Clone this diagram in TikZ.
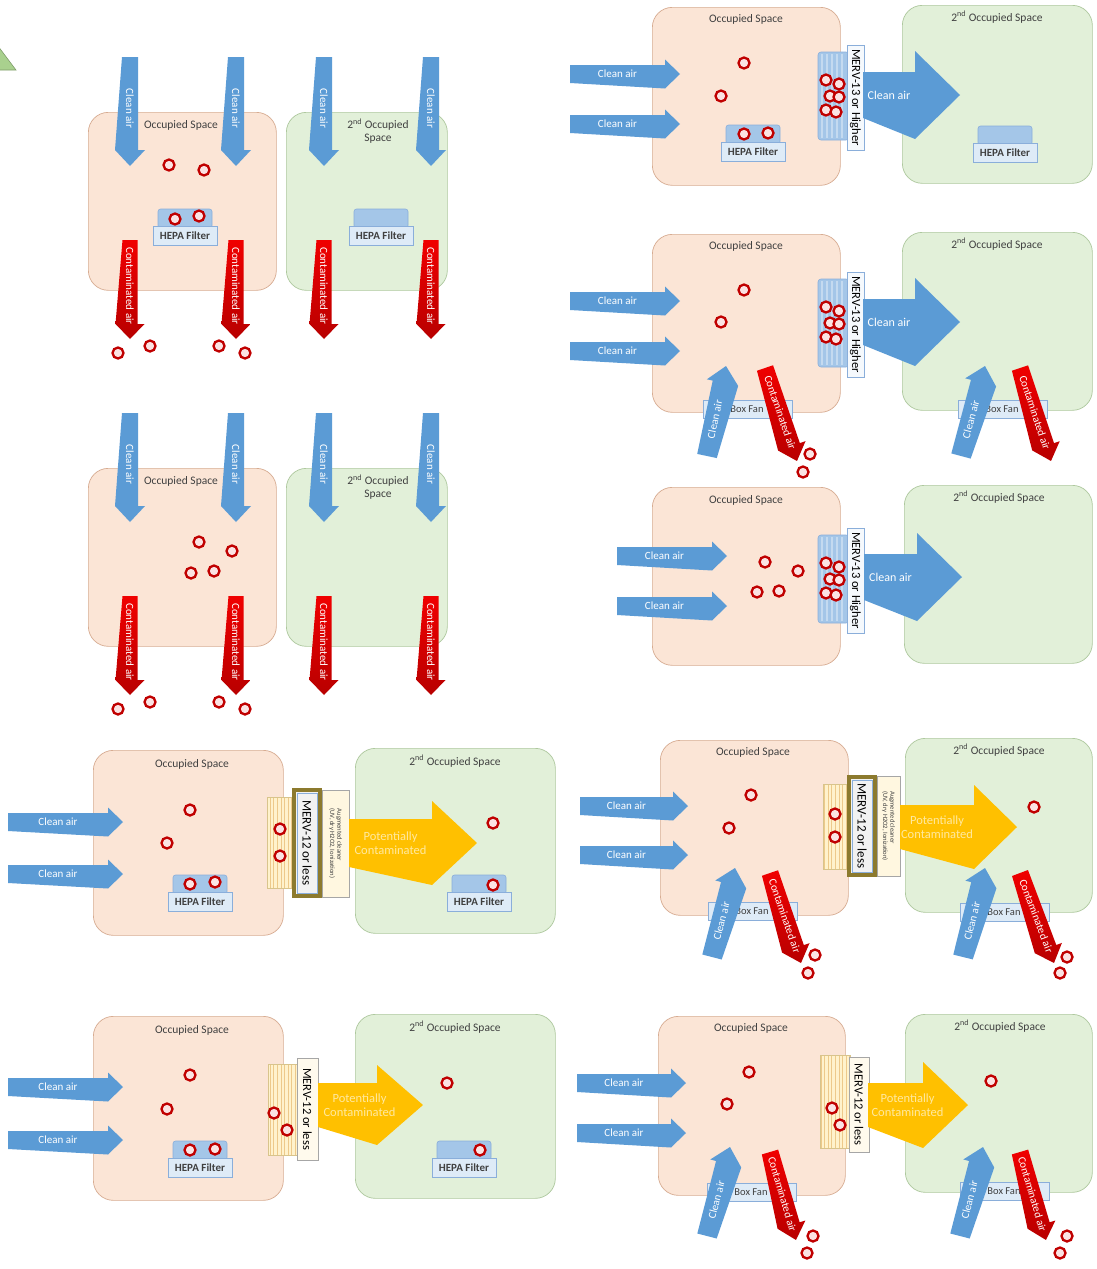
\documentclass[tikz,border=0pt]{standalone}
\usepackage{fontspec}
\setmainfont{Carlito}
\definecolor{peach}{HTML}{FBE5D6}
\definecolor{peachl}{HTML}{D7AC92}
\definecolor{grn}{HTML}{E2F0D9}
\definecolor{grnl}{HTML}{AEC89E}
\definecolor{cblue}{HTML}{5B9BD5}
\definecolor{cred}{HTML}{F00000}
\definecolor{credd}{HTML}{B80000}
\definecolor{cyel}{HTML}{FFC000}
\definecolor{cyelt}{HTML}{FFE9A0}
\definecolor{ctxt}{HTML}{404040}
\definecolor{hepat}{HTML}{A4C6E8}
\definecolor{hepas}{HTML}{C4DAF0}
\definecolor{hepab}{HTML}{DEEBF7}
\definecolor{hepal}{HTML}{8AAEDA}
\definecolor{pred}{HTML}{C00000}
\definecolor{pfill}{HTML}{FBE3E3}
\definecolor{gridf}{HTML}{FFF2CC}
\definecolor{gridl}{HTML}{EDC98A}
\definecolor{gridb}{HTML}{D8C48C}
\definecolor{olive}{HTML}{8C7A2E}
\definecolor{trig}{HTML}{A9D18E}
\tikzset{
  roomP/.style={fill=peach, draw=peachl, line width=0.7, rounded corners=20},
  roomG/.style={fill=grn, draw=grnl, line width=0.7, rounded corners=20},
  ttl/.style={text=ctxt, font=\fontsize{11.5}{12.5}\selectfont, align=center, inner sep=0},
  ptc/.style={circle, draw=pred, line width=2.3, fill=pfill, minimum size=11, inner sep=0},
  bfill/.style={fill=cblue},
  rfill/.style={top color=cred, bottom color=credd},
  yfill/.style={fill=cyel},
  wt/.style={text=white, font=\fontsize{12}{12}\selectfont, inner sep=0, transform shape},
  wts/.style={text=white, font=\fontsize{11}{11}\selectfont, inner sep=0, transform shape},
  yt/.style={text=cyelt, font=\fontsize{12.5}{13.5}\selectfont, inner sep=0, align=center, transform shape},
  boxlbl/.style={text=ctxt, font=\fontsize{10.5}{10.5}\selectfont, inner sep=0},
  mlbl/.style={text=black, font=\fontsize{12.5}{12.5}\selectfont, inner sep=0, rotate=-90},
  auglbl/.style={rotate=-90, font=\fontsize{6.6}{7.4}\selectfont, align=left, text=ctxt, inner sep=0},
}
\newcounter{pcnt}
\newcommand\prt[2]{\stepcounter{pcnt}\node[ptc] (p\arabic{pcnt}) at (#1,#2) {};}
\newcommand\adim[3]{\def\as{#1}\def\ah{#2}\def\at{#3}}
% name, x1,y1,x2,y2, fill style, text style, text offset, text
\newcommand\barrow[9]{%
  \pgfmathsetmacro\bdx{(#4)-(#2)}%
  \pgfmathsetmacro\bdy{(#5)-(#3)}%
  \pgfmathsetmacro\blen{veclen(\bdx,\bdy)}%
  \pgfmathsetmacro\bang{atan2(-\bdy,\bdx)}%
  \pgfmathsetmacro\bsh{\blen-\at}%
  \begin{scope}[shift={(#2,#3)},rotate=\bang]
    \path[#6] (0,-\as/2) -- (\bsh,-\as/2) -- (\bsh,-\ah/2) -- (\blen,0) -- (\bsh,\ah/2) -- (0,\as/2) -- cycle;
    \node[#7] (#1) at ({\bsh/2+(#8)},0) {#9};
  \end{scope}}
\newcommand\roomn[6]{\node[#6, anchor=north west, minimum width={((#4)-(#2))*1pt}, minimum height={((#5)-(#3))*1pt}, inner sep=0] (#1) at (#2,#3) {};}
\newcommand\hepa[3]{%
  \draw[fill=hepat, draw=hepal, line width=0.6, rounded corners=2.5] ({#2-27},#3) rectangle ({#2+27},{#3+19});
  \node[fill=hepab, draw=hepal, line width=0.6, minimum width=64, minimum height=19, inner sep=0, text=ctxt, font=\fontsize{11}{11}\selectfont\bfseries, anchor=north] (#1) at (#2,{#3+17}) {HEPA Filter};}
\newcommand\bfan[3]{%
  \node[fill=hepab, draw=hepal, line width=0.6, minimum width=89, minimum height=18, anchor=north west, inner sep=0] (#1) at (#2,#3) {};
  \node[boxlbl] (#1t) at ({#2+44},{#3+9.5}) {Box Fan};}
\newcommand\mervb[2]{%
  \draw[fill=hepat, draw=hepal, line width=0.6, rounded corners=3] (818,{#2+7}) rectangle (849,{#2+95});
  \foreach \i in {822,827,...,846} {\draw[hepas, line width=1.3] (\i,{#2+9}) -- (\i,{#2+93});}
  \draw[fill=white!70!hepab, draw=hepal, line width=0.6] (847,#2) rectangle (864,{#2+105});
  \node[mlbl] (#1) at (855.5,{#2+52.5}) {MERV-13 or Higher};
  \prt{826}{#2+35}\prt{839}{#2+39}\prt{830}{#2+51}\prt{839}{#2+52}\prt{826}{#2+65}\prt{836}{#2+67}}
\begin{document}
\begin{tikzpicture}[x=1pt,y=-1pt]
\useasboundingbox (0,0) rectangle (1096,1269);
\fill[white] (0,0) rectangle (1096,1269);
\draw[fill=trig, draw=trig!75!black, line width=0.6] (-2,46) -- (16,70) -- (-2,70) -- cycle;

% ---------------- Panels A and B ----------------
\foreach \dy/\s in {0/a,356/b}{
  \roomn{ra\s}{88}{112+\dy}{276}{290+\dy}{roomP}
  \roomn{rb\s}{286}{112+\dy}{447}{290+\dy}{roomG}
  \node[ttl] (ta\s) at (181,125+\dy) {Occupied Space};
  \node[ttl] (tb\s) at (378,131+\dy) {2\textsuperscript{nd} Occupied\\Space};
  \adim{16}{30}{16}
  \foreach \x in {130,236,324,431}{
    \barrow{ca\s\x}{\x}{57+\dy}{\x}{166+\dy}{bfill}{wts}{5}{Clean air}}
  \adim{15}{29}{15}
  \foreach \x in {130,236,324,431}{
    \barrow{cc\s\x}{\x}{240+\dy}{\x}{339+\dy}{rfill}{wts}{4}{Contaminated air}}
  \prt{118}{353+\dy}\prt{150}{346+\dy}\prt{219}{346+\dy}\prt{245}{353+\dy}
}
\prt{169}{165}\prt{204}{170}
\hepa{hA1}{185}{209}
\prt{175}{219}\prt{199}{216}
\hepa{hA2}{381}{209}
\prt{199}{542}\prt{232}{551}\prt{191}{573}\prt{214}{571}

% ---------------- Panel C ----------------
\roomn{rC1}{652}{7}{840}{185}{roomP}
\roomn{rC2}{902}{5}{1092}{183}{roomG}
\node[ttl] (tC1) at (746,19) {Occupied Space};
\node[ttl] (tC2) at (997,17) {2\textsuperscript{nd} Occupied Space};
\adim{18}{29}{15}
\barrow{cC1}{570}{74}{680}{74}{bfill}{wts}{0}{Clean air}
\barrow{cC2}{570}{124}{680}{124}{bfill}{wts}{0}{Clean air}
\prt{744}{63}\prt{721}{96}
\hepa{hC1}{753}{125}
\prt{744}{134}\prt{768}{133}
\mervb{mC}{45}
\adim{46}{88}{45}
\barrow{bC}{863}{95}{960}{95}{bfill}{wt}{0}{Clean air}
\hepa{hC2}{1005}{126}

% ---------------- Panel D ----------------
\roomn{rD1}{652}{234}{840}{412}{roomP}
\roomn{rD2}{902}{232}{1092}{410}{roomG}
\node[ttl] (tD1) at (746,246) {Occupied Space};
\node[ttl] (tD2) at (997,244) {2\textsuperscript{nd} Occupied Space};
\adim{18}{29}{15}
\barrow{cD1}{570}{301}{680}{301}{bfill}{wts}{0}{Clean air}
\barrow{cD2}{570}{351}{680}{351}{bfill}{wts}{0}{Clean air}
\prt{744}{290}\prt{721}{322}
\mervb{mD}{272}
\adim{46}{88}{45}
\barrow{bD}{863}{322}{960}{322}{bfill}{wt}{0}{Clean air}
\bfan{fD1}{703}{400}
\bfan{fD2}{958}{400}
\adim{20}{32}{17}
\barrow{uD1}{707}{456}{726}{366}{bfill}{wts}{0}{Clean air}
\barrow{uD2}{961}{456}{985}{366}{bfill}{wts}{0}{Clean air}
\adim{17}{29}{16}
\barrow{dD1}{765}{368}{797}{461}{rfill}{wts}{6}{Contaminated air}
\barrow{dD2}{1020}{368}{1051}{461}{rfill}{wts}{6}{Contaminated air}
\prt{810}{454}\prt{803}{472}

% ---------------- Panel E ----------------
\roomn{rE1}{652}{487}{840}{665}{roomP}
\roomn{rE2}{904}{485}{1092}{663}{roomG}
\node[ttl] (tE1) at (746,500) {Occupied Space};
\node[ttl] (tE2) at (999,497) {2\textsuperscript{nd} Occupied Space};
\adim{18}{29}{15}
\barrow{cE1}{617}{556}{727}{556}{bfill}{wts}{0}{Clean air}
\barrow{cE2}{617}{606}{727}{606}{bfill}{wts}{0}{Clean air}
\prt{765}{562}\prt{798}{571}\prt{757}{592}\prt{779}{591}
\mervb{mE}{528}
\adim{46}{88}{45}
\barrow{bE}{864}{577}{962}{577}{bfill}{wt}{0}{Clean air}

% ---------------- Panel F ----------------
\roomn{rF1}{93}{750}{283}{935}{roomP}
\roomn{rF2}{355}{748}{555}{933}{roomG}
\node[ttl] (tF1) at (192,764) {Occupied Space};
\node[ttl] (tF2) at (455,761) {2\textsuperscript{nd} Occupied Space};
\adim{18}{29}{15}
\barrow{cF1}{8}{822}{123}{822}{bfill}{wts}{0}{Clean air}
\barrow{cF2}{8}{874}{123}{874}{bfill}{wts}{0}{Clean air}
\prt{190}{810}\prt{167}{843}
\hepa{hF1}{200}{875}
\prt{190}{884}\prt{215}{882}
\fill[gridf] (267,797) rectangle (293,888);
\draw[gridl, line width=0.35, step=3.6] (267,797) grid (293,888);
\draw[gridb, line width=0.6] (267,797) rectangle (293,888);
\prt{280}{829}\prt{280}{856}
\draw[olive, line width=3.5, fill=white!95!black] (294,790) rectangle (320,896);
\draw[hepal, line width=0.5] (297,793) rectangle (317,893);
\node[mlbl, font=\fontsize{13}{13}\selectfont] (mF) at (307,843) {MERV-12 or less};
\draw[fill=gridf!60!white, draw=black!35, line width=0.5] (322,790) rectangle (349,897);
\node[auglbl] (aF) at (335.5,843.5) {Augmented cleaner\\(UV, dry H2O2, Ionization)};
\adim{48}{84}{45}
\barrow{yF}{349}{843}{477}{843}{yfill}{yt}{0}{Potentially\\Contaminated}
\prt{493}{823}
\hepa{hF2}{479}{875}
\prt{493}{885}

% ---------------- Panel G ----------------
\roomn{rG1}{660}{740}{848}{915}{roomP}
\roomn{rG2}{905}{738}{1092}{912}{roomG}
\node[ttl] (tG1) at (753,752) {Occupied Space};
\node[ttl] (tG2) at (999,750) {2\textsuperscript{nd} Occupied Space};
\adim{18}{29}{15}
\barrow{cG1}{580}{806}{688}{806}{bfill}{wts}{0}{Clean air}
\barrow{cG2}{580}{855}{688}{855}{bfill}{wts}{0}{Clean air}
\prt{751}{795}\prt{729}{828}
\fill[gridf] (823,784) rectangle (848,869);
\draw[gridl, line width=0.35, step=3.6] (823,784) grid (848,869);
\draw[gridb, line width=0.6] (823,784) rectangle (848,869);
\prt{835}{814}\prt{835}{837}
\draw[olive, line width=3.5, fill=white!95!black] (849,777) rectangle (875,875);
\draw[hepal, line width=0.5] (852,780) rectangle (872,872);
\node[mlbl, font=\fontsize{13}{13}\selectfont] (mG) at (862,826) {MERV-12 or less};
\draw[fill=gridf!60!white, draw=black!35, line width=0.5] (877,776) rectangle (900,876);
\node[auglbl] (aG) at (888.5,826) {Augmented cleaner\\(UV, dry H2O2, Ionization)};
\adim{44}{84}{43}
\barrow{yG}{900}{827}{1017}{827}{yfill}{yt}{0}{Potentially\\Contaminated}
\prt{1034}{807}
\bfan{fG1}{708}{902}
\bfan{fG2}{960}{903}
\adim{20}{32}{17}
\barrow{uG1}{712}{957}{735}{868}{bfill}{wts}{0}{Clean air}
\barrow{uG2}{963}{957}{985}{868}{bfill}{wts}{0}{Clean air}
\adim{17}{29}{16}
\barrow{dG1}{770}{873}{801}{963}{rfill}{wts}{6}{Contaminated air}
\barrow{dG2}{1020}{873}{1054}{963}{rfill}{wts}{6}{Contaminated air}
\prt{815}{955}\prt{808}{973}\prt{1067}{957}\prt{1060}{973}

% ---------------- Panel H ----------------
\roomn{rH1}{93}{1016}{283}{1200}{roomP}
\roomn{rH2}{355}{1014}{555}{1198}{roomG}
\node[ttl] (tH1) at (192,1030) {Occupied Space};
\node[ttl] (tH2) at (455,1027) {2\textsuperscript{nd} Occupied Space};
\adim{18}{29}{15}
\barrow{cH1}{8}{1087}{123}{1087}{bfill}{wts}{0}{Clean air}
\barrow{cH2}{8}{1140}{123}{1140}{bfill}{wts}{0}{Clean air}
\prt{190}{1075}\prt{167}{1109}
\hepa{hH1}{200}{1141}
\prt{190}{1150}\prt{215}{1149}
\fill[gridf] (268,1064) rectangle (298,1155);
\draw[gridl, line width=0.35, step=3.6] (268,1064) grid (298,1155);
\draw[gridb, line width=0.6] (268,1064) rectangle (298,1155);
\prt{274}{1113}\prt{287}{1130}
\draw[fill=gridf!35!white, draw=black!35, line width=0.5] (297,1058) rectangle (318,1160);
\node[mlbl] (mH) at (307.5,1109) {MERV-12 or less};
\adim{44}{80}{46}
\barrow{yH}{318}{1105}{423}{1105}{yfill}{yt}{12}{Potentially\\Contaminated}
\prt{447}{1083}
\hepa{hH2}{464}{1141}
\prt{480}{1150}

% ---------------- Panel I ----------------
\roomn{rI1}{658}{1016}{845}{1195}{roomP}
\roomn{rI2}{905}{1014}{1092}{1192}{roomG}
\node[ttl] (tI1) at (751,1028) {Occupied Space};
\node[ttl] (tI2) at (1000,1026) {2\textsuperscript{nd} Occupied Space};
\adim{18}{29}{15}
\barrow{cI1}{577}{1083}{686}{1083}{bfill}{wts}{0}{Clean air}
\barrow{cI2}{577}{1133}{686}{1133}{bfill}{wts}{0}{Clean air}
\prt{749}{1072}\prt{727}{1104}
\fill[gridf] (820,1055) rectangle (850,1148);
\draw[gridl, line width=0.35, step=3.6] (820,1055) grid (850,1148);
\draw[gridb, line width=0.6] (820,1055) rectangle (850,1148);
\prt{832}{1108}\prt{840}{1125}
\draw[fill=gridf!35!white, draw=black!35, line width=0.5] (849,1057) rectangle (869,1152);
\node[mlbl] (mI) at (859,1104.5) {MERV-12 or less};
\adim{44}{86}{45}
\barrow{yI}{868}{1105}{968}{1105}{yfill}{yt}{12}{Potentially\\Contaminated}
\prt{991}{1081}
\bfan{fI1}{707}{1183}
\bfan{fI2}{960}{1182}
\adim{20}{32}{17}
\barrow{uI1}{707}{1236}{730}{1147}{bfill}{wts}{0}{Clean air}
\barrow{uI2}{960}{1236}{983}{1147}{bfill}{wts}{0}{Clean air}
\adim{17}{29}{16}
\barrow{dI1}{770}{1152}{796}{1240}{rfill}{wts}{6}{Contaminated air}
\barrow{dI2}{1020}{1152}{1046}{1240}{rfill}{wts}{6}{Contaminated air}
\prt{813}{1236}\prt{807}{1253}\prt{1067}{1236}\prt{1060}{1253}
\end{tikzpicture}
\end{document}
